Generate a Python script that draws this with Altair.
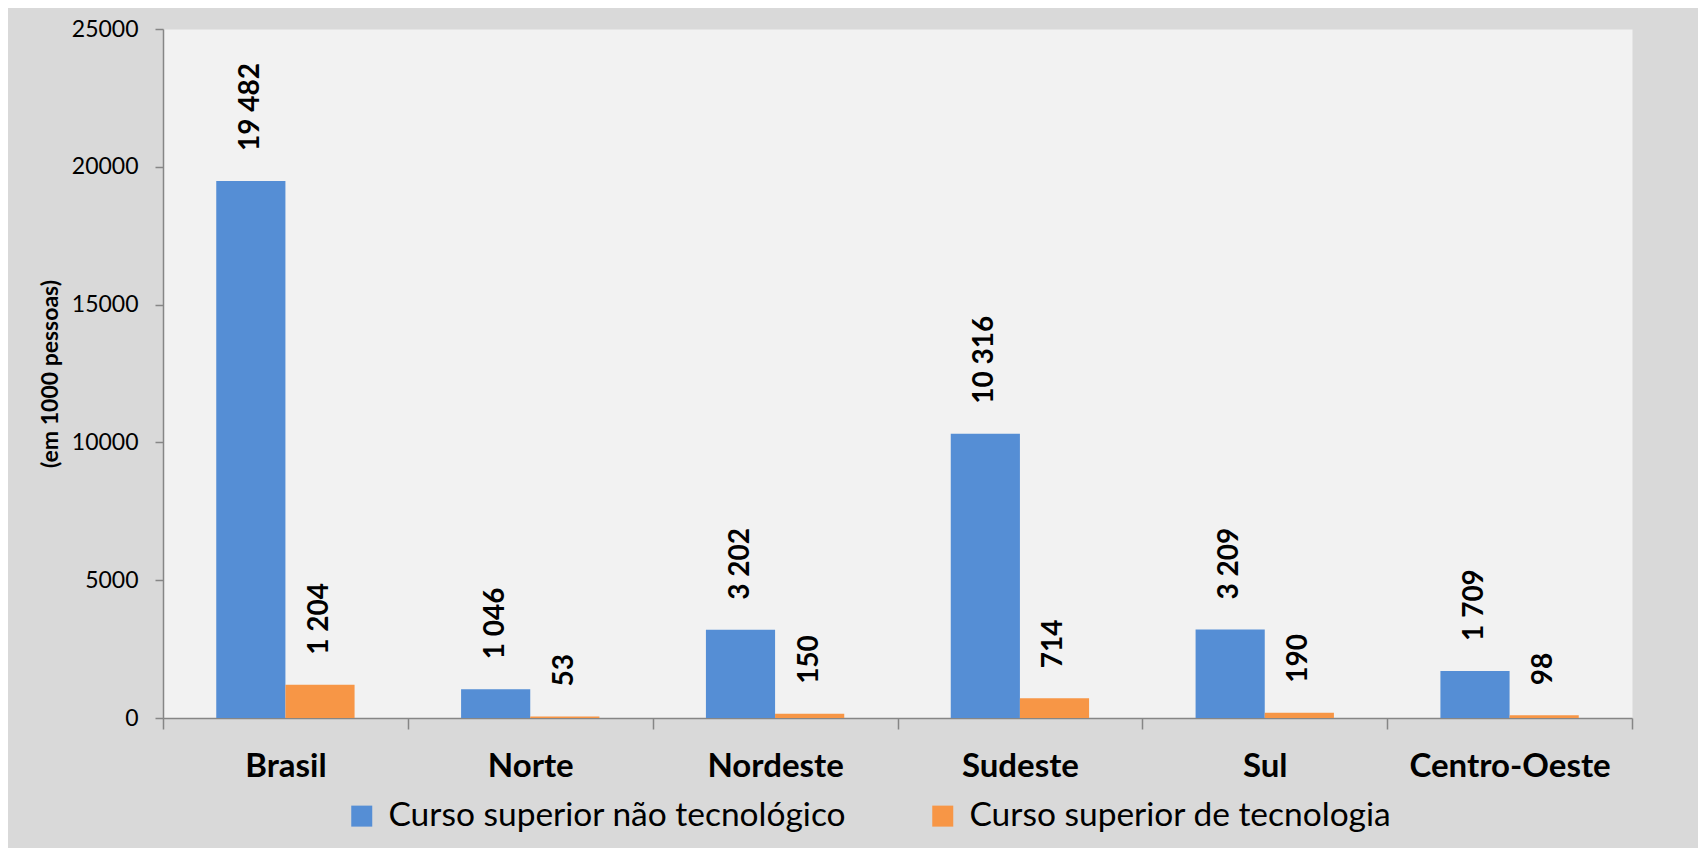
import altair as alt
import pandas as pd

regions = ["Brasil", "Norte", "Nordeste", "Sudeste", "Sul", "Centro-Oeste"]
nao_tecnologico = [19482, 1046, 3202, 10316, 3209, 1709]
tecnologia = [1204, 53, 150, 714, 190, 98]
series = ["Curso superior não tecnológico", "Curso superior de tecnologia"]
colors = ["#558ED5", "#F79646"]
y_ticks = [0, 5000, 10000, 15000, 20000, 25000]

rows = []
for r, a, b in zip(regions, nao_tecnologico, tecnologia):
    for s, v in zip(series, (a, b)):
        rows.append({"regiao": r, "serie": s, "valor": v,
                     "rotulo": f"{v:,}".replace(",", " ")})
df = pd.DataFrame(rows)

W, H = 1469, 689
AX = "#868686"

x_enc = alt.X(
    "regiao:N", sort=regions,
    scale=alt.Scale(paddingInner=0, paddingOuter=0),
    axis=alt.Axis(title=None, tickBand="extent", tickSize=11, tickColor=AX,
                  domainColor=AX, domainWidth=1.5, tickWidth=1.5,
                  labelFont="Lato", labelFontSize=33, labelFontWeight="bold",
                  labelColor="black", labelPadding=21, labelAngle=0,
                  labelLimit=0),
)
xo_enc = alt.XOffset("serie:N", sort=series,
                     scale=alt.Scale(paddingInner=0, paddingOuter=0.77))
y_enc = alt.Y(
    "valor:Q",
    scale=alt.Scale(domain=[0, 25000], nice=False),
    axis=alt.Axis(values=y_ticks, format="d", grid=False,
                  title="(em 1000 pessoas)", titleFont="Lato", titleFontSize=23,
                  titleFontWeight="bold", titleColor="black", titleX=-113,
                  titleBaseline="middle",
                  tickSize=8, tickColor=AX, domainColor=AX, domainWidth=1.5,
                  tickWidth=1.5, labelFont="Lato", labelFontSize=23,
                  labelColor="black", labelPadding=17),
)
color_enc = alt.Color(
    "serie:N", sort=series,
    scale=alt.Scale(domain=series, range=colors),
    legend=alt.Legend(title=None, orient="none", legendX=182, legendY=770,
                      direction="horizontal", symbolType="square",
                      symbolSize=441, symbolStrokeWidth=0, labelFont="Lato",
                      labelFontSize=33.5, labelColor="black", labelOffset=10,
                      columnPadding=79, labelLimit=0, padding=0),
)

bars = alt.Chart(df).mark_bar().encode(
    x=x_enc, xOffset=xo_enc, y=y_enc, color=color_enc
)
labels = alt.Chart(df).mark_text(
    angle=270, align="left", baseline="middle", dx=30,
    font="Lato", fontSize=28, fontWeight="bold", color="black"
).encode(
    x=alt.X("regiao:N", sort=regions),
    xOffset=alt.XOffset("serie:N", sort=series),
    y=alt.Y("valor:Q"),
    text="rotulo:N",
)

chart = alt.layer(bars, labels).properties(
    width=W, height=H, background="#d9d9d9",
    padding={"left": 155, "top": 21, "right": 66, "bottom": 130},
    autosize=alt.AutoSizeParams(type="none"),
).configure_view(fill="#f2f2f2", stroke="transparent")

chart.save("out.html", embed_options={"renderer": "svg", "actions": False})
